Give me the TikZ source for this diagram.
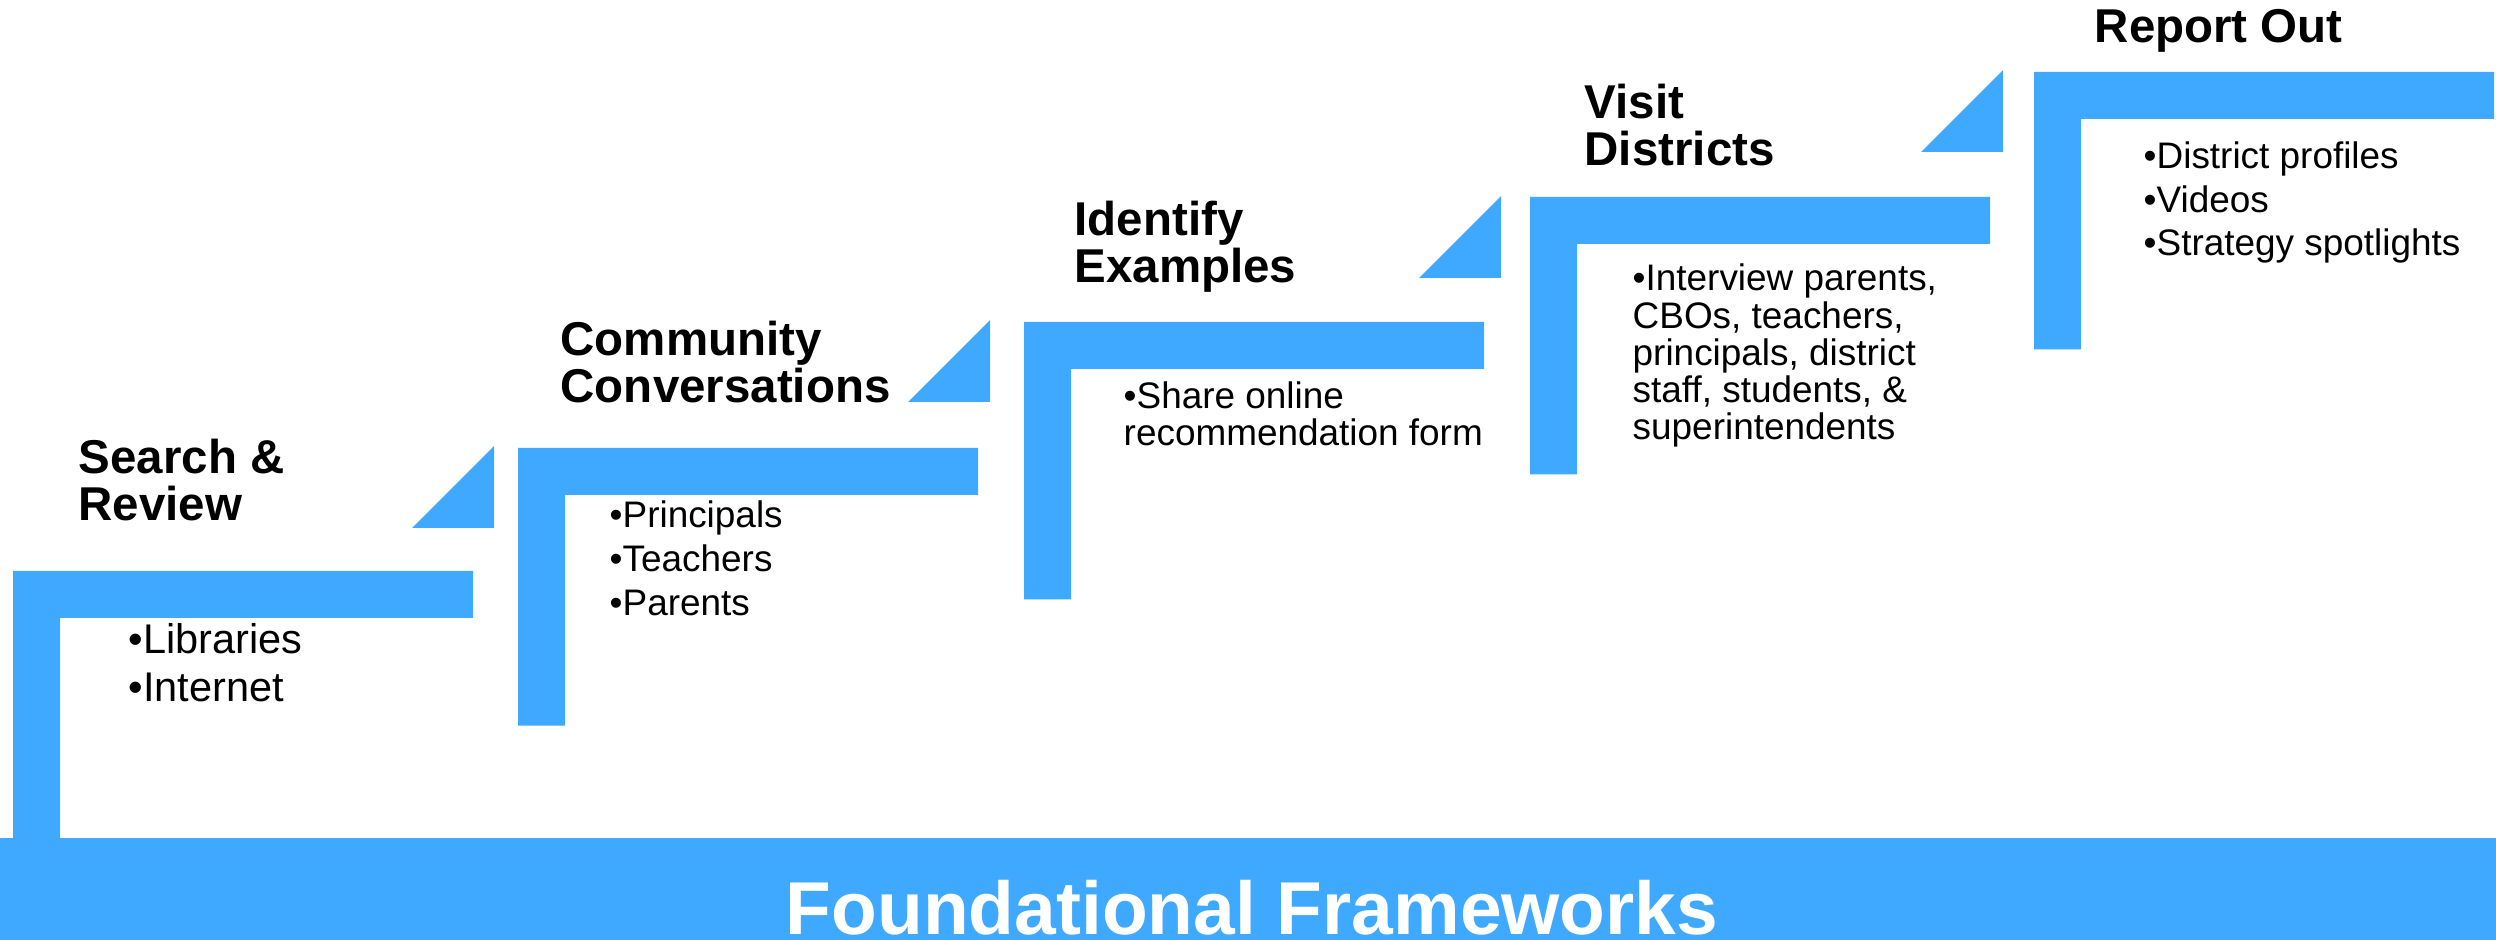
\documentclass[tikz,border=0pt]{standalone}
\usepackage{fontspec}
\setmainfont{Liberation Sans}
\definecolor{stepblue}{RGB}{63,169,255}

\begin{document}
\begin{tikzpicture}[x=0.01cm,y=-0.01cm,
    stepbar/.style={fill=stepblue},
    title/.style={anchor=base west,inner sep=0pt,align=left,
                  font=\fontsize{13.5}{13.5}\selectfont\bfseries},
    items/.style={anchor=base west,inner sep=0pt,align=left}]
  \useasboundingbox (0,0) rectangle (2496,940);

% define the stairs
  \foreach \x/\y in {13/571, 518/448, 1024/322, 1530/197, 2034/72}
    \fill[stepbar] (\x,\y) -- ++(460,0) -- ++(0,47) -- ++(-413,0)
                   -- ++(0,230.5) -- ++(-47,0) -- cycle;
  \foreach \x/\y in {494/528, 990/402, 1501/278, 2003/152}
    \fill[stepbar] (\x,\y) -- ++(0,-82) -- ++(-82,82) -- cycle;

% define the step titles (placed at the baseline of the last line)
  \node[title]  (search)    at (78,521)     {Search \&\\Review};
  \node[title]  (community) at (560,403)    {Community\\Conversations};
  \node[title]  (identify)  at (1074,283)   {Identify\\Examples};
  \node[title]  (visit)     at (1584,166)   {Visit\\Districts};
  \node[title]  (report)    at (2094,43)    {Report Out};

% define the lists
  \node[items,font=\fontsize{11.8}{13.9}\selectfont] (searchlist)    at (128,702)
        {•Libraries\\•Internet};
  \node[items,font=\fontsize{10.5}{12.6}\selectfont] (communitylist) at (609,616)
        {•Principals\\•Teachers\\•Parents};
  \node[items,font=\fontsize{10.5}{10.7}\selectfont] (identifylist)  at (1123,446)
        {•Share online\\recommendation form};
  \node[items,font=\fontsize{10.5}{10.6}\selectfont] (visitlist)     at (1632,440)
        {•Interview parents,\\CBOs, teachers,\\principals, district\\staff, students, \&\\superintendents};
  \node[items,font=\fontsize{10.5}{12.5}\selectfont] (reportlist)    at (2143,256)
        {•District profiles\\•Videos\\•Strategy spotlights};

% define the base
  \fill[stepbar] (0,838) rectangle (2496,940);
  \node[anchor=base,inner sep=0pt,text=white,font=\fontsize{21.3}{21.3}\selectfont\bfseries]
        (found) at (1252,934) {Foundational Frameworks};
\end{tikzpicture}
\end{document}
